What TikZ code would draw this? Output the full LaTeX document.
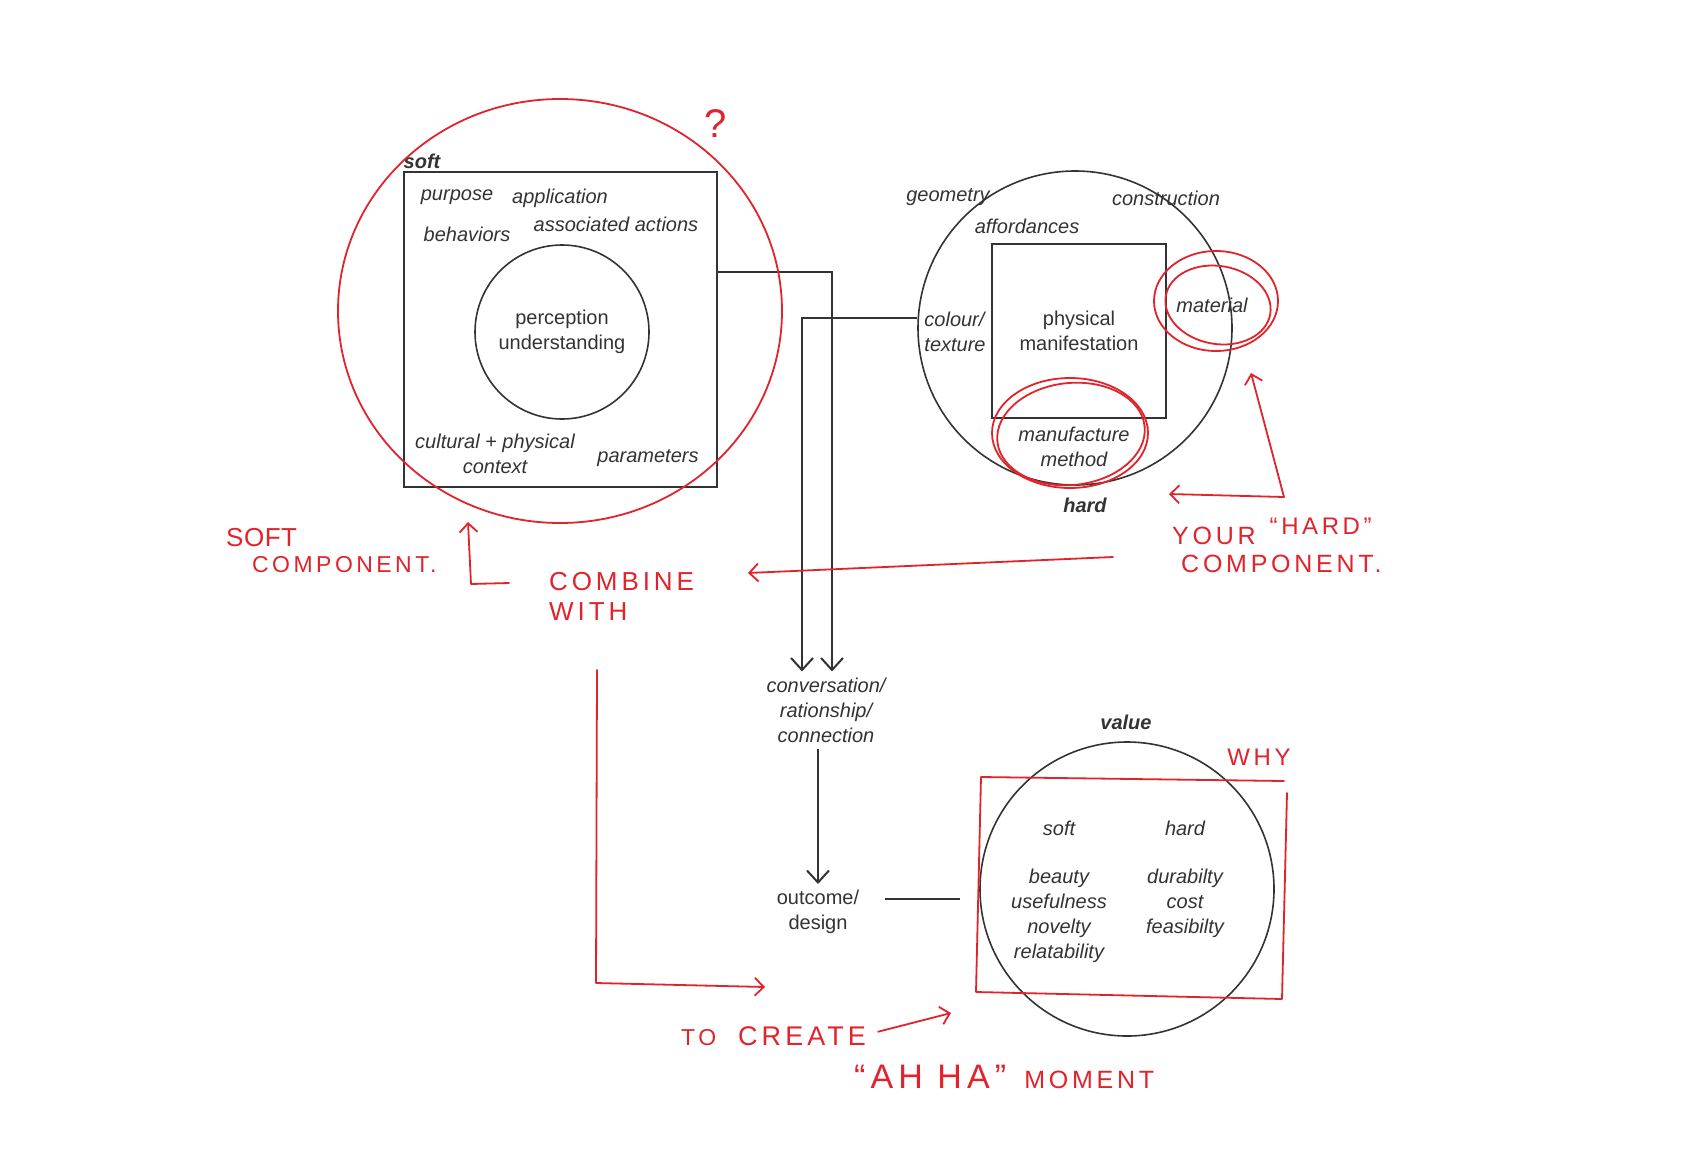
\documentclass[tikz,border=0pt]{standalone}
\usepackage{fontspec}
\setmainfont{Liberation Sans}
\newfontfamily\handfont[LetterSpace=15]{Liberation Sans}
\usepackage{tikz}
\usetikzlibrary{positioning}
\usetikzlibrary{arrows.meta,shapes}
\usetikzlibrary{calc}
\definecolor{pen}{HTML}{E1232C}
\definecolor{ink}{HTML}{333333}
\tikzstyle{lbl}=[font=\fontsize{20}{25}\selectfont\itshape,text=ink,align=center,inner sep=0pt]
\tikzstyle{uplbl}=[font=\fontsize{20}{25}\selectfont,text=ink,align=center,inner sep=0pt]
\tikzstyle{title}=[font=\fontsize{20}{25}\selectfont\bfseries\itshape,text=ink,inner sep=0pt]
\tikzstyle{hand}=[font=\handfont,text=pen,inner sep=0pt,align=left]
\tikzstyle{redpen}=[draw=pen,line width=1.8pt,line cap=round,line join=round]
\tikzstyle{redarrow}=[redpen,-{Straight Barb[length=9pt,width=18pt,line width=1.8pt]}]
\tikzstyle{flow}=[draw=ink,line width=2pt,-{Straight Barb[length=12pt,width=22pt,line width=2pt]}]
\tikzstyle{plain}=[draw=ink,line width=1.6pt]
\tikzstyle{frame}=[rectangle,draw=ink,line width=2pt]
\tikzstyle{ring}=[circle,draw=ink,line width=1.6pt,inner sep=0pt]

\begin{document}
\begin{tikzpicture}[x=1pt,y=-1pt]
 \useasboundingbox[fill=white] (0,0) rectangle (1694,1173);

 %soft component
 \node[frame,minimum width=313pt,minimum height=315pt] (softbox) at (560.5,329.5) {};
 \node[ring,uplbl,minimum size=174pt] (percep) at (562,332) {perception\\understanding};
 \node[title] (softt) at (422,161) {soft};

  \foreach \x/\y/\name/\label in {457/197/purp/purpose, 560/198/appl/application, 467/234/behav/behaviors,
      616/224/assoc/associated actions, 495/453.5/ctx/{cultural + physical\\context}, 648/458/param/parameters}
          \node[lbl] (\name) at (\x,\y) {\label};

 %hard component
 \node[ring,minimum size=314pt] (hardcirc) at (1075,328) {};
 \node[frame,uplbl,minimum size=174pt,inner sep=0pt] (phys) at (1079,331) {physical\\manifestation};
 \node[title] (hardt) at (1085,505) {hard};

  \foreach \x/\y/\name/\label in {948/197/geom/geometry, 1166/198/constr/construction, 1027/226/afford/affordances,
      1212/305/mater/material, 1074/447/manuf/{manufacture\\method}}
          \node[lbl] (\name) at (\x,\y) {\label};
 \node[lbl,align=left] (colour) at (955,332) {colour/\\texture};

 %middle
 \node[lbl,inner ysep=6pt] (conv) at (826,710) {conversation/\\rationship/\\connection};
 \node[uplbl,inner ysep=6pt] (outcome) at (818,912) {outcome/\\design};

 \draw[flow] ($(softbox.north east)+(0,101)$) -| ([xshift=6pt]conv.north);
 \draw[flow] ($(hardcirc.west)+(0,-10)$) -| ([xshift=-24pt]conv.north);
 \draw[flow] (outcome.north |- conv.south) -- (outcome.north);

 %value
 \node[ring,minimum size=294pt] (valcirc) at (1127,889) {};
 \node[title] (valt) at (1126,722) {value};
  \foreach \x/\y/\name/\label in {1059/828/vsoft/soft, 1185/828/vhard/hard,
      1059/915.5/vsl/{beauty\\usefulness\\novelty\\relatability}, 1185/903/vhl/{durabilty\\cost\\feasibilty}}
          \node[lbl] (\name) at (\x,\y) {\label};
 \draw[plain] ($(outcome.east)+(26,-13)$) -- +(75,0);

 %red notes
 \draw[redpen] (560,311) ellipse [x radius=222, y radius=212];
 \draw[redpen] (1216,301) ellipse [x radius=62, y radius=50];
 \draw[redpen,rotate around={-10:(1218,305)}] (1218,305) ellipse [x radius=53, y radius=39];
 \draw[redpen] (1070,433) ellipse [x radius=78, y radius=55];
 \draw[redpen,rotate around={6:(1071,434)}] (1071,434) ellipse [x radius=74, y radius=51];
 \draw[redpen] (1284,781) -- (981,777) -- (976,992) -- (1282,999) -- (1287,793);

 \node[hand,font=\fontsize{40}{40}\handfont] (qmark) at (716,124) {?};
 \node[hand,anchor=base west,font=\fontsize{26}{30}\handfont\addfontfeature{LetterSpace=2}] (softnote) at (226,546) {SOFT};
 \node[hand,anchor=base west,font=\fontsize{23}{26}\handfont] (softnote2) at (252,572) {COMPONENT.};
 \node[hand,anchor=west,font=\fontsize{26}{30}\handfont] (combine) at (549,596) {COMBINE\\WITH};
 \node[hand,anchor=west,font=\fontsize{25}{30}\handfont] (hardnote) at (1172,545) {YOUR\hspace{14pt}\raisebox{10pt}{\fontsize{24}{24}\selectfont “HARD”}\\[-2pt]\hspace*{9pt}COMPONENT.};
 \node[hand,anchor=base west,font=\fontsize{27}{30}\handfont] (create) at (681,1045) {{\fontsize{23}{23}\selectfont TO}\hspace{22pt}CREATE};
 \node[hand,anchor=base west,font=\fontsize{25}{30}\handfont] (ahha) at (854,1088) {{\fontsize{34}{34}\selectfont “AH HA”}\hspace{18pt}MOMENT};
 \node[hand,font=\fontsize{24}{30}\handfont] (why) at (1259,757) {WHY};

 \coordinate (sc) at (471,584);
 \coordinate (hc) at (1284,497);
 \coordinate (cc) at (596,983);
 \draw[redarrow] (509,583) -- (sc) -- (468,522);
 \draw[redarrow] (hc) -- (1251,373);
 \draw[redarrow] (hc) -- (1169,494);
 \draw[redarrow] (1113,557) -- (748,573);
 \draw[redarrow] (597,670) -- (cc) -- (765,987);
 \draw[redarrow] (create.east) ++(12,-4) -- (951,1013);

\end{tikzpicture}
\end{document}
